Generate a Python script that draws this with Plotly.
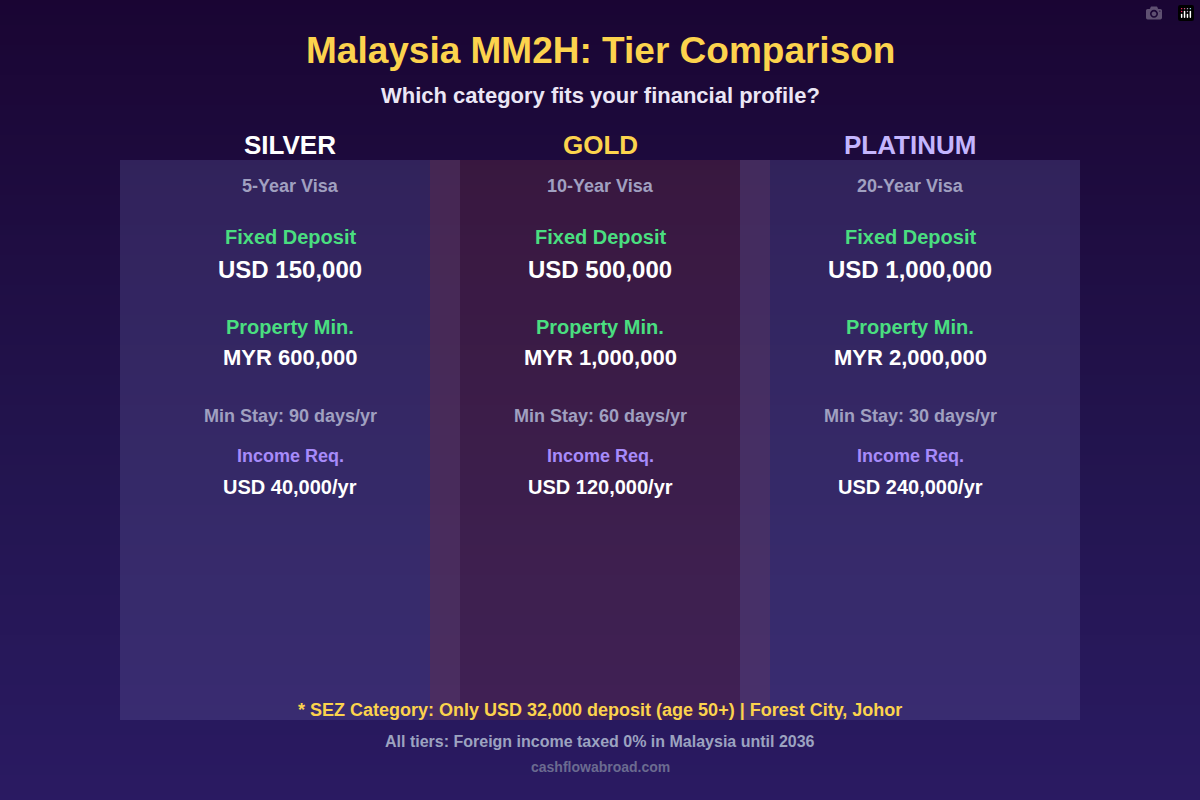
import plotly.graph_objects as go

tiers = ["SILVER", "GOLD", "PLATINUM"]
tier_colors = ["#ffffff", "#fcd34d", "#c4b5fd"]
visa = ["5-Year Visa", "10-Year Visa", "20-Year Visa"]
deposit = ["USD 150,000", "USD 500,000", "USD 1,000,000"]
property_min = ["MYR 600,000", "MYR 1,000,000", "MYR 2,000,000"]
min_stay = ["Min Stay: 90 days/yr", "Min Stay: 60 days/yr", "Min Stay: 30 days/yr"]
income = ["USD 40,000/yr", "USD 120,000/yr", "USD 240,000/yr"]
centers = [290, 600, 910]
panel_fill = ["rgba(90,80,150,0.35)", "rgba(110,50,70,0.35)", "rgba(90,80,150,0.35)"]

FONT = "Liberation Sans, Arial, sans-serif"
fig = go.Figure()

# background gradient
ys = list(range(0, 801, 10))
fig.add_trace(go.Heatmap(x=[0, 1200], y=ys, z=[[y, y] for y in ys],
                         colorscale=[[0, "#1a0533"], [0.6, "#231550"], [1, "#2a1a62"]],
                         showscale=False, hoverinfo="skip"))

for i, c in enumerate(centers):
    fig.add_shape(type="rect", x0=c - 170, x1=c + 170, y0=160, y1=720,
                  fillcolor=panel_fill[i], line_width=0, layer="above")

def txt(x, y, s, size, color, bold=True):
    fig.add_annotation(x=x, y=y, text=f"<b>{s}</b>" if bold else s, showarrow=False,
                       font=dict(size=size, color=color, family=FONT), xanchor="center", yanchor="middle")

txt(600, 50, "Malaysia MM2H: Tier Comparison", 37, "#fcd34d")
txt(600, 95, "Which category fits your financial profile?", 22, "#ebe6f5")

for i, c in enumerate(centers):
    txt(c, 145, tiers[i], 26, tier_colors[i])
    txt(c, 186, visa[i], 18, "#a0a0c0")
    txt(c, 237, "Fixed Deposit", 20, "#4ade80")
    txt(c, 269, deposit[i], 24, "#ffffff")
    txt(c, 327, "Property Min.", 20, "#4ade80")
    txt(c, 357, property_min[i], 22, "#ffffff")
    txt(c, 416, min_stay[i], 18, "#a0a0c0")
    txt(c, 456, "Income Req.", 18, "#a78bfa")
    txt(c, 487, income[i], 20, "#ffffff")

txt(600, 710, "* SEZ Category: Only USD 32,000 deposit (age 50+) | Forest City, Johor", 18, "#fcd34d")
txt(600, 741, "All tiers: Foreign income taxed 0% in Malaysia until 2036", 16, "#9ca3c0")
txt(600, 767, "cashflowabroad.com", 14, "#6b6b90")

fig.update_xaxes(range=[0, 1200], visible=False, fixedrange=True)
fig.update_yaxes(range=[800, 0], visible=False, fixedrange=True)
fig.update_layout(width=1200, height=800, margin=dict(l=0, r=0, t=0, b=0),
                  paper_bgcolor="#1a0533", plot_bgcolor="#1a0533", showlegend=False)
fig.write_html("out.html",
               post_script="document.body.style.margin='0';document.body.style.overflow='hidden';")
